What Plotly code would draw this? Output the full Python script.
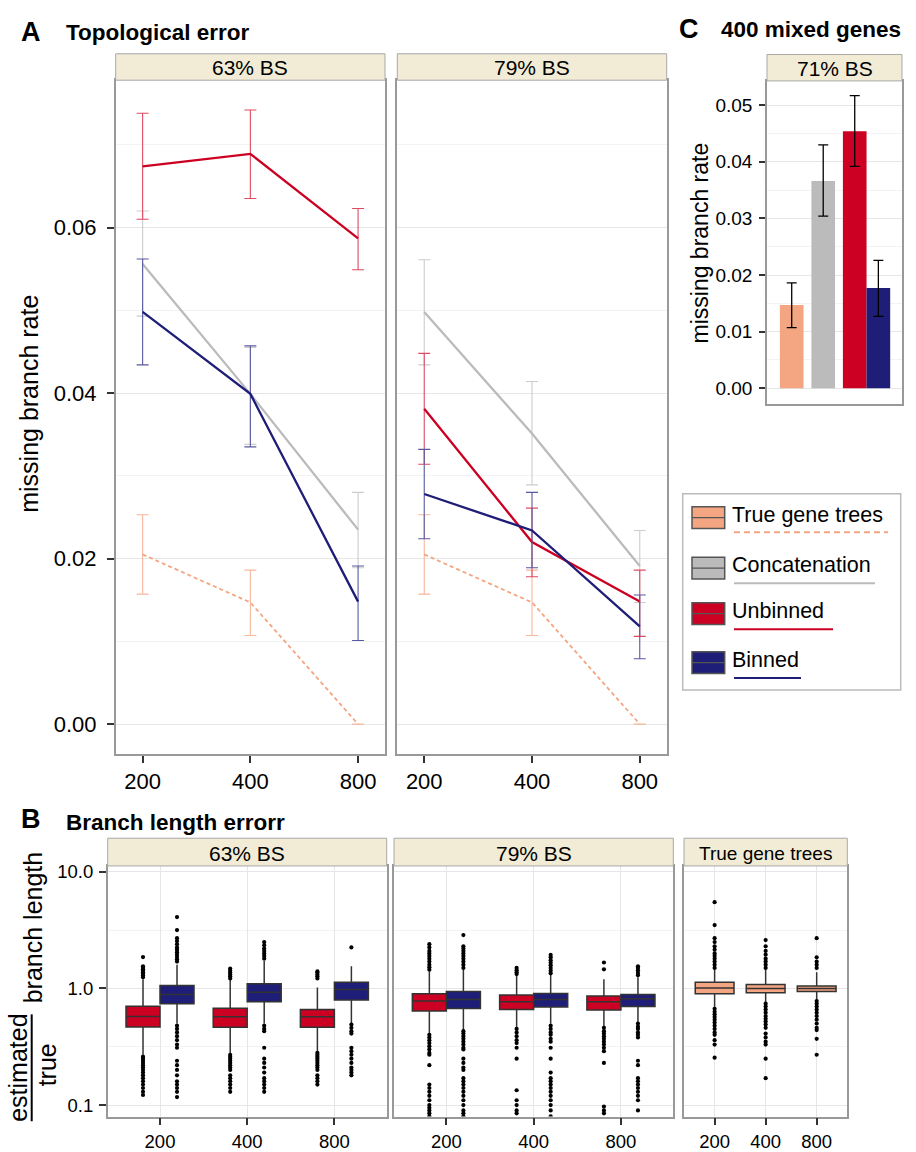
import plotly.graph_objects as go

W, H = 916, 1152
FONT = "Liberation Sans, Arial, Helvetica, sans-serif"

# ------------------------------------------------------------------ data
sizes = ["200", "400", "800"]
methods = ["True gene trees", "Concatenation", "Unbinned", "Binned"]
colors = {"True gene trees": "#F4A582", "Concatenation": "#BBBBBB",
          "Unbinned": "#CC0022", "Binned": "#1E1E78"}
err_colors = {"True gene trees": "#F7B79B", "Concatenation": "#CCCCCC",
              "Unbinned": "#DF4A62", "Binned": "#5858A0"}

# Panel A - topological error (missing branch rate), mean with lower/upper bounds
A63_true = [0.0205, 0.0147, 0.0]
A63_true_lo = [0.0157, 0.0107, 0.0]
A63_true_hi = [0.0253, 0.0186, 0.0]
A63_concat = [0.0556, 0.0399, 0.0235]
A63_concat_lo = [0.0493, 0.0338, 0.0189]
A63_concat_hi = [0.0620, 0.0455, 0.0280]
A63_unbinned = [0.0674, 0.0689, 0.0587]
A63_unbinned_lo = [0.0610, 0.0635, 0.0549]
A63_unbinned_hi = [0.0738, 0.0742, 0.0623]
A63_binned = [0.0498, 0.0399, 0.0148]
A63_binned_lo = [0.0434, 0.0335, 0.0101]
A63_binned_hi = [0.0562, 0.0457, 0.0191]

A79_true = [0.0205, 0.0147, 0.0]
A79_true_lo = [0.0157, 0.0107, 0.0]
A79_true_hi = [0.0253, 0.0186, 0.0]
A79_concat = [0.0498, 0.0351, 0.0191]
A79_concat_lo = [0.0434, 0.0289, 0.0147]
A79_concat_hi = [0.0561, 0.0414, 0.0234]
A79_unbinned = [0.0381, 0.0220, 0.0148]
A79_unbinned_lo = [0.0314, 0.0178, 0.0106]
A79_unbinned_hi = [0.0448, 0.0261, 0.0186]
A79_binned = [0.0278, 0.0234, 0.0118]
A79_binned_lo = [0.0224, 0.0189, 0.0079]
A79_binned_hi = [0.0332, 0.0280, 0.0156]

# Panel C - 400 mixed genes, 71% BS
C_rate = [0.0147, 0.0366, 0.0454, 0.0177]
C_lo = [0.0107, 0.0304, 0.0392, 0.0127]
C_hi = [0.0186, 0.0430, 0.0517, 0.0226]

# Panel B - branch length error (estimated / true), box statistics per size
B63_unb_lo = [0.27, 0.28, 0.29]
B63_unb_q1 = [0.467, 0.464, 0.464]
B63_unb_med = [0.575, 0.573, 0.573]
B63_unb_q3 = [0.703, 0.676, 0.66]
B63_unb_hi = [1.2, 1.2, 1.02]
B63_unb_out = [
    [1.25, 1.3, 1.34, 1.38, 1.42, 1.46, 1.5, 1.55, 1.86,
     0.26, 0.25, 0.24, 0.23, 0.22, 0.21, 0.2, 0.19, 0.18, 0.17, 0.16, 0.15, 0.14, 0.13, 0.122],
    [1.22, 1.27, 1.32, 1.37, 1.42, 1.48,
     0.27, 0.26, 0.25, 0.24, 0.23, 0.22, 0.21, 0.2, 0.18, 0.17, 0.16, 0.15, 0.14, 0.13],
    [1.22, 1.27, 1.32, 1.37, 1.4,
     0.28, 0.27, 0.26, 0.25, 0.24, 0.23, 0.22, 0.21, 0.2, 0.18, 0.17, 0.16, 0.15],
]
B63_bin_lo = [0.5, 0.5, 0.5]
B63_bin_q1 = [0.741, 0.771, 0.796]
B63_bin_med = [0.889, 0.93, 0.98]
B63_bin_q3 = [1.06, 1.10, 1.13]
B63_bin_hi = [1.6, 1.72, 1.55]
B63_bin_out = [
    [1.7, 1.78, 1.86, 1.95, 2.05, 2.15, 2.25, 2.4, 2.55, 2.7, 3.17, 4.1,
     0.48, 0.45, 0.42, 0.39, 0.36, 0.33, 0.31, 0.24, 0.22, 0.2, 0.18, 0.16, 0.15, 0.14, 0.13, 0.117],
    [1.8, 1.9, 2.0, 2.1, 2.2, 2.35, 2.5,
     0.48, 0.45, 0.43, 0.31, 0.25, 0.23, 0.21, 0.19, 0.17, 0.16, 0.15, 0.14, 0.13],
    [2.25,
     0.49, 0.46, 0.43, 0.41, 0.31, 0.29, 0.27, 0.25, 0.23, 0.21, 0.2, 0.19, 0.18],
]
B79_unb_lo = [0.41, 0.46, 0.46]
B79_unb_q1 = [0.642, 0.66, 0.654]
B79_unb_med = [0.78, 0.77, 0.77]
B79_unb_q3 = [0.90, 0.877, 0.86]
B79_unb_hi = [1.4, 1.3, 1.2]
B79_unb_out = [
    [1.45, 1.52, 1.6, 1.7, 1.8, 1.9, 2.0, 2.1, 2.25, 2.4,
     0.40, 0.38, 0.36, 0.34, 0.32, 0.30, 0.28, 0.27, 0.22,
     0.15, 0.14, 0.13, 0.12, 0.11, 0.10, 0.095, 0.09, 0.085, 0.08],
    [1.33, 1.38, 1.43, 1.5,
     0.45, 0.42, 0.39, 0.36, 0.34, 0.31, 0.25, 0.134, 0.11, 0.1, 0.09, 0.085],
    [1.46, 1.67,
     0.46, 0.43, 0.41, 0.39, 0.37, 0.35, 0.33, 0.31, 0.29, 0.23, 0.097, 0.09, 0.085],
]
B79_bin_lo = [0.44, 0.5, 0.51]
B79_bin_q1 = [0.672, 0.694, 0.70]
B79_bin_med = [0.806, 0.806, 0.818]
B79_bin_q3 = [0.94, 0.907, 0.889]
B79_bin_hi = [1.45, 1.32, 1.25]
B79_bin_out = [
    [1.5, 1.6, 1.7, 1.8, 1.9, 2.0, 2.1, 2.2, 2.3, 2.87,
     0.43, 0.41, 0.39, 0.37, 0.35, 0.33, 0.31, 0.30, 0.25, 0.23, 0.21, 0.2,
     0.17, 0.16, 0.15, 0.14, 0.13, 0.12, 0.11, 0.1, 0.09, 0.085, 0.08],
    [1.35, 1.42, 1.5, 1.58, 1.66, 1.75, 1.85, 1.94,
     0.48, 0.45, 0.42, 0.40, 0.37, 0.35, 0.31, 0.25,
     0.19, 0.17, 0.16, 0.15, 0.14, 0.13, 0.12, 0.11, 0.10, 0.09, 0.08],
    [1.3, 1.36, 1.43, 1.5, 1.55,
     0.50, 0.47, 0.45, 0.42, 0.40, 0.38, 0.24, 0.22,
     0.17, 0.16, 0.15, 0.14, 0.13, 0.12, 0.11, 0.09],
]
Btrue_lo = [0.69, 0.76, 0.8]
Btrue_q1 = [0.90, 0.92, 0.94]
Btrue_med = [1.01, 1.0, 1.0]
Btrue_q3 = [1.13, 1.08, 1.05]
Btrue_hi = [1.45, 1.45, 1.38]
Btrue_out = [
    [1.5, 1.6, 1.7, 1.8, 1.9, 2.0, 2.15, 2.3, 2.5, 2.7, 3.5, 5.5,
     0.67, 0.63, 0.6, 0.57, 0.54, 0.51, 0.48, 0.45, 0.42, 0.40, 0.36, 0.33, 0.255],
    [1.5, 1.6, 1.7, 1.8, 1.95, 2.1, 2.3, 2.6,
     0.74, 0.7, 0.66, 0.62, 0.58, 0.55, 0.52, 0.49, 0.46, 0.41, 0.38, 0.35, 0.33, 0.25, 0.17],
    [1.5, 1.6, 1.7, 1.85, 2.7,
     0.78, 0.74, 0.7, 0.66, 0.62, 0.58, 0.54, 0.5, 0.46, 0.44, 0.37, 0.27],
]

# ------------------------------------------------------------------ helpers
def PX(x):
    return x / W


def PY(y):
    return 1 - y / H


fig = go.Figure()
shapes = []
annotations = []

AX = dict(showline=True, mirror=True, linecolor="#999999", linewidth=1.5,
          zeroline=False, ticks="outside", tickcolor="#333333", tickwidth=1.5,
          ticklen=7, tickfont=dict(size=22, color="black", family=FONT),
          gridcolor="#E6E6E6", gridwidth=1)

# ------------------------------------------------------------------ panel A
idx = list(range(len(sizes)))
A_sets = [
    ("x", "y", [(A63_true, A63_true_lo, A63_true_hi), (A63_concat, A63_concat_lo, A63_concat_hi),
                (A63_unbinned, A63_unbinned_lo, A63_unbinned_hi), (A63_binned, A63_binned_lo, A63_binned_hi)]),
    ("x2", "y2", [(A79_true, A79_true_lo, A79_true_hi), (A79_concat, A79_concat_lo, A79_concat_hi),
                  (A79_unbinned, A79_unbinned_lo, A79_unbinned_hi), (A79_binned, A79_binned_lo, A79_binned_hi)]),
]
for xa, ya, series in A_sets:
    for m, (mean, lo, hi) in zip(methods, series):
        dashed = m == "True gene trees"
        fig.add_trace(go.Scatter(
            x=idx, y=mean, mode="lines", xaxis=xa, yaxis=ya, name=m,
            line=dict(color=colors[m], width=1.8 if dashed else 2.3,
                      dash="4px,3px" if dashed else "solid"),
            error_y=dict(type="data", symmetric=False,
                         array=[h - v for h, v in zip(hi, mean)],
                         arrayminus=[v - l for v, l in zip(mean, lo)],
                         color=err_colors[m], thickness=1.1, width=6),
        ))

A_yr = [-0.00359, 0.0778]
A_y = dict(AX, range=A_yr, tickvals=[0, 0.02, 0.04, 0.06],
           ticktext=["0.00", "0.02", "0.04", "0.06"], showgrid=True,
           ticklabelstandoff=6,
           minor=dict(tickvals=[0.01, 0.03, 0.05, 0.07], showgrid=True,
                      gridcolor="#F3F3F3", ticks=""))
A_x = dict(AX, range=[-0.25, 2.25], tickvals=idx, ticktext=sizes, showgrid=False)

fig.update_layout(
    xaxis=dict(A_x, domain=[PX(115.7), PX(385)], anchor="y"),
    yaxis=dict(A_y, domain=[PY(756.7), PY(76)], anchor="x"),
    xaxis2=dict(A_x, domain=[PX(397.3), PX(666.7)], anchor="y2"),
    yaxis2=dict(A_y, domain=[PY(756.7), PY(76)], anchor="x2",
                showticklabels=False, ticks=""),
)

# ------------------------------------------------------------------ panel C
bw = 0.75
for i, m in enumerate(methods):
    slot = min(i, 2)
    off = -bw / 2 if i < 3 else bw / 2
    fig.add_trace(go.Bar(
        x=[slot], y=[C_rate[i]], width=bw, offset=off, xaxis="x3", yaxis="y3",
        marker=dict(color=colors[m], line=dict(width=0)), name=m,
        error_y=dict(type="data", symmetric=False, array=[C_hi[i] - C_rate[i]],
                     arrayminus=[C_rate[i] - C_lo[i]], color="black",
                     thickness=1.3, width=5),
    ))

fig.update_layout(
    xaxis3=dict(AX, domain=[PX(767), PX(902)], anchor="y3", range=[-0.784, 3.5],
                showticklabels=False, ticks="", showgrid=False),
    yaxis3=dict(AX, domain=[PY(402.7), PY(76.7)], anchor="x3",
                range=[-0.0027, 0.0543],
                tickvals=[0, 0.01, 0.02, 0.03, 0.04, 0.05],
                ticktext=["0.00", "0.01", "0.02", "0.03", "0.04", "0.05"],
                tickfont=dict(size=19, color="black", family=FONT),
                ticklen=6, ticklabelstandoff=3, showgrid=True,
                minor=dict(tickvals=[0.005, 0.015, 0.025, 0.035, 0.045],
                           showgrid=True, gridcolor="#F3F3F3", ticks="")),
    barmode="overlay",
)

# ------------------------------------------------------------------ panel B
pair_off = 0.195
B_sets = [
    ("x4", "y4", [("Unbinned", -pair_off, 0.39, B63_unb_lo, B63_unb_q1, B63_unb_med, B63_unb_q3, B63_unb_hi, B63_unb_out),
                  ("Binned", pair_off, 0.39, B63_bin_lo, B63_bin_q1, B63_bin_med, B63_bin_q3, B63_bin_hi, B63_bin_out)]),
    ("x5", "y5", [("Unbinned", -pair_off, 0.39, B79_unb_lo, B79_unb_q1, B79_unb_med, B79_unb_q3, B79_unb_hi, B79_unb_out),
                  ("Binned", pair_off, 0.39, B79_bin_lo, B79_bin_q1, B79_bin_med, B79_bin_q3, B79_bin_hi, B79_bin_out)]),
    ("x6", "y6", [("True gene trees", 0.0, 0.76, Btrue_lo, Btrue_q1, Btrue_med, Btrue_q3, Btrue_hi, Btrue_out)]),
]
for xa, ya, groups in B_sets:
    for m, off, wdt, lo, q1, med, q3, hi, outs in groups:
        pos = [i + off for i in idx]
        fig.add_trace(go.Box(
            x=pos, q1=q1, median=med, q3=q3, lowerfence=lo, upperfence=hi,
            width=wdt, xaxis=xa, yaxis=ya, boxpoints=False, whiskerwidth=0,
            fillcolor=colors[m], line=dict(color="#333333", width=1.5), name=m,
        ))
        ox, oy = [], []
        for p, vals in zip(pos, outs):
            ox += [p] * len(vals)
            oy += vals
        fig.add_trace(go.Scatter(
            x=ox, y=oy, mode="markers", xaxis=xa, yaxis=ya, name=m + " outliers",
            marker=dict(color="black", size=4.2, line=dict(width=0)),
        ))

B_y = dict(AX, type="log", range=[-1.099, 1.051], tickvals=[0.1, 1, 10],
           ticktext=["0.1", "1.0", "10.0"], showgrid=True,
           tickfont=dict(size=18.5, color="black", family=FONT),
           ticklabelstandoff=2,
           minor=dict(tickvals=[10 ** -0.5, 10 ** 0.5], showgrid=True,
                      gridcolor="#F3F3F3", ticks=""))
B_x = dict(AX, range=[-0.6, 2.6], tickvals=idx, ticktext=sizes, showgrid=True,
           tickfont=dict(size=18.5, color="black", family=FONT))
B_dom_y = [PY(1123.3), PY(870)]
fig.update_layout(
    xaxis4=dict(B_x, domain=[PX(107.7), PX(386.7)], anchor="y4"),
    yaxis4=dict(B_y, domain=B_dom_y, anchor="x4"),
    xaxis5=dict(B_x, domain=[PX(394), PX(673.3)], anchor="y5"),
    yaxis5=dict(B_y, domain=B_dom_y, anchor="x5", showticklabels=False, ticks=""),
    xaxis6=dict(B_x, domain=[PX(684), PX(847.3)], anchor="y6"),
    yaxis6=dict(B_y, domain=B_dom_y, anchor="x6", showticklabels=False, ticks=""),
)

# ------------------------------------------------------------------ strips
strips = [
    (115.7, 385, 49.3, 76, "63% BS", 21),
    (397.3, 666.7, 49.3, 76, "79% BS", 21),
    (767, 902, 50, 76.7, "71% BS", 21),
    (107.7, 386.7, 842, 870, "63% BS", 21),
    (394, 673.3, 842, 870, "79% BS", 21),
    (684, 847.3, 842, 870, "True gene trees", 19),
]
for x0, x1, y0, y1, txt, fs in strips:
    shapes.append(dict(type="rect", xref="paper", yref="paper",
                       x0=PX(x0), x1=PX(x1), y0=PY(y1), y1=PY(y0),
                       fillcolor="#F2ECD7", line=dict(color="#A8A8A8", width=1)))
    annotations.append(dict(xref="paper", yref="paper", x=PX((x0 + x1) / 2),
                            y=PY((y0 + y1) / 2 + 1), text=txt, showarrow=False,
                            xanchor="center", yanchor="middle",
                            font=dict(size=fs, color="black", family=FONT)))

# ------------------------------------------------------------------ titles
def label(x, y, txt, size, bold=True, anchor="left", angle=0, fam=FONT):
    annotations.append(dict(xref="paper", yref="paper", x=PX(x), y=PY(y),
                            text=f"<b>{txt}</b>" if bold else txt, showarrow=False,
                            xanchor=anchor, yanchor="middle", textangle=angle,
                            font=dict(size=size, color="black", family=fam)))

NARROW = "Liberation Sans Narrow, Arial Narrow, Liberation Sans, Arial"
label(31, 27, "A", 27, anchor="center", fam=NARROW)
label(64, 28, "Topological error", 22.5)
label(688.5, 24, "C", 27, anchor="center", fam=NARROW)
label(719, 25, "400 mixed genes", 22.5)
label(30.5, 822.5, "B", 27, anchor="center", fam=NARROW)
label(64, 826, "Branch length errorr", 22.5)

label(29, 403, "missing branch rate", 25, bold=False, anchor="center", angle=-90)
label(700, 241, "missing branch rate", 23, bold=False, anchor="center", angle=-90)

# B y-axis label: fraction estimated/true + "branch length"
label(18, 1074, "estimated", 25, bold=False, anchor="center", angle=-90)
label(46.5, 1071, "true", 25, bold=False, anchor="center", angle=-90)
shapes.append(dict(type="line", xref="paper", yref="paper", x0=PX(31.7), x1=PX(31.7),
                   y0=PY(1128), y1=PY(1020), line=dict(color="black", width=2)))
label(33, 932, "branch length", 25, bold=False, anchor="center", angle=-90)

# ------------------------------------------------------------------ legend
shapes.append(dict(type="rect", xref="paper", yref="paper", x0=PX(682.7), x1=PX(900.7),
                   y0=PY(692.3), y1=PY(494), fillcolor="white",
                   line=dict(color="#BBBBBB", width=1.5), layer="below"))
leg_sw_y = [518, 569, 615, 664.5]
leg_txt_y = [515, 566, 612, 661.5]
leg_ln_y = [532.7, 584.3, 630.7, 680]
leg_ln_len = [154, 141, 99, 67]
for i, m in enumerate(methods):
    cy = leg_sw_y[i]
    shapes.append(dict(type="rect", xref="paper", yref="paper", x0=PX(692), x1=PX(724.7),
                       y0=PY(cy + 11), y1=PY(cy - 11), fillcolor=colors[m],
                       line=dict(color="#555555", width=1.5)))
    shapes.append(dict(type="line", xref="paper", yref="paper", x0=PX(692), x1=PX(724.7),
                       y0=PY(cy), y1=PY(cy), line=dict(color="#555555", width=1.2)))
    annotations.append(dict(xref="paper", yref="paper", x=PX(730), y=PY(leg_txt_y[i]),
                            text=m, showarrow=False, xanchor="left", yanchor="middle",
                            font=dict(size=21.5, color="black", family=FONT)))
    shapes.append(dict(type="line", xref="paper", yref="paper", x0=PX(734),
                       x1=PX(734 + leg_ln_len[i]), y0=PY(leg_ln_y[i]), y1=PY(leg_ln_y[i]),
                       line=dict(color=colors[m], width=2,
                                 dash="6px,4px" if i == 0 else "solid")))

fig.update_layout(
    width=W, height=H, margin=dict(l=0, r=0, t=0, b=0),
    paper_bgcolor="white", plot_bgcolor="white", showlegend=False,
    font=dict(family=FONT, color="black"),
    shapes=shapes, annotations=annotations,
)

fig.write_html("out.html")
